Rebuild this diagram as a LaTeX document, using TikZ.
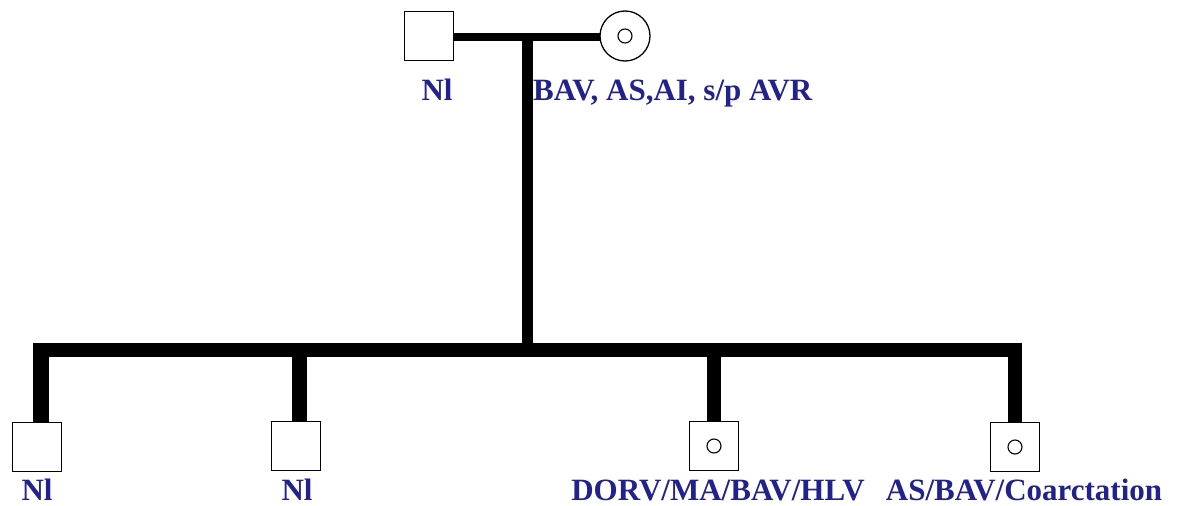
\documentclass[tikz,border=0pt]{standalone}
\usepackage{fontspec}
\setmainfont{Liberation Serif}
\begin{document}
\begin{tikzpicture}[x=1pt,y=-1pt,
  male/.style={draw=black,line width=1.3pt,fill=white,minimum size=49pt,inner sep=0pt,outer sep=0pt},
  female/.style={draw=black,line width=1.3pt,fill=white,circle,minimum size=50pt,inner sep=0pt,outer sep=0pt},
  dot/.style={draw=black,line width=1.1pt,circle,minimum size=14pt,inner sep=0pt},
  lab/.style={text=labblue,font=\fontsize{31}{35}\selectfont\bfseries,inner sep=0pt,anchor=base},
  marr/.style={line width=8pt},
  desc/.style={line width=11pt},
  sib/.style={line width=14pt}]
\definecolor{labblue}{HTML}{22228C}
\useasboundingbox (0,0) rectangle (1179,506);
% parents
\node[male] (f) at (429,36) {};
\node[female] (m) at (625,36) {};
\node[dot] (mi) at (m.center) {};
\coordinate (mid) at (527,37);
\coordinate (sibc) at (527,350);
\draw[marr] (f.east |- mid) -- (m.west |- mid);
\draw[desc] (mid) -- (sibc);
% children
\node[male] (c1) at (37,447) {};
\node[male] (c2) at (296,446) {};
\node[male] (c3) at (714,446) {};
\node[dot] (c3i) at (c3.center) {};
\node[male] (c4) at (1015,447) {};
\node[dot] (c4i) at (c4.center) {};
\coordinate (s1) at (41,350);
\coordinate (s2) at (299,350);
\coordinate (s3) at (714,350);
\coordinate (s4) at (1015,350);
\draw[line width=16pt] ([yshift=-6pt]s1) -- (s1 |- c1.north);
\draw[line width=15pt] (s2) -- (s2 |- c2.north);
\draw[line width=14pt] (s3) -- (s3 |- c3.north);
\draw[line width=14pt] (s4) -- (s4 |- c4.north);
\draw[sib] ([xshift=-8pt]s1) -- ([xshift=7pt]s4);
% labels
\node[lab] (lf) at (437,100) {Nl};
\node[lab,anchor=base west] (lm) at (533,100) {BAV, AS,AI, s/p AVR};
\node[lab] (l1) at (37,500) {Nl};
\node[lab] (l2) at (297,500) {Nl};
\node[lab] (l3) at (718,500) {DORV/MA/BAV/HLV};
\node[lab] (l4) at (1024,500) {AS/BAV/Coarctation};
\end{tikzpicture}
\end{document}
